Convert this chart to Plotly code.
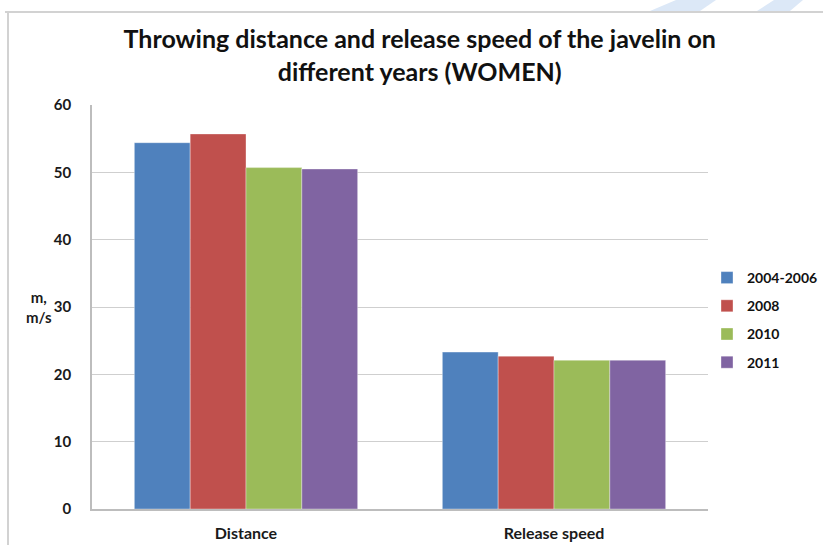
import plotly.graph_objects as go

categories = ["Distance", "Release speed"]
series_names = ["2004-2006", "2008", "2010", "2011"]
values_2004_2006 = [54.4, 23.3]
values_2008 = [55.7, 22.7]
values_2010 = [50.7, 22.1]
values_2011 = [50.5, 22.1]
series_values = [values_2004_2006, values_2008, values_2010, values_2011]
colors = ["#4F81BD", "#C0504D", "#9BBB59", "#8064A2"]
y_ticks = [0, 10, 20, 30, 40, 50, 60]

W, H = 823, 545
L, R, T, B = 92, 115, 105, 36
pw, ph = W - L - R, H - T - B


def px_x(x):
    return (x - L) / pw


def px_y(y):
    return (H - B - y) / ph


fig = go.Figure()
for name, vals, col in zip(series_names, series_values, colors):
    fig.add_trace(go.Bar(
        x=categories, y=vals, name=name, legendgroup=name,
        marker=dict(color=col, line=dict(color="rgba(255,255,255,0.35)", width=1)),
    ))

font_family = "Lato, 'Open Sans', sans-serif"
text_col = "#1a1a1a"

fig.update_layout(
    width=W, height=H,
    margin=dict(l=L, r=R, t=T, b=B, autoexpand=False),
    paper_bgcolor="white", plot_bgcolor="white",
    barmode="group", bargap=0.275, bargroupgap=0,
    font=dict(family=font_family, color=text_col),
    title=dict(
        text="Throwing distance and release speed of the javelin on<br>different years (WOMEN)",
        x=0.51, xanchor="center", y=1 - 48 / H, yanchor="middle",
        font=dict(size=25, family=font_family, color="#111111", weight="bold"),
    ),
    showlegend=True,
    legend=dict(
        x=px_x(707), y=px_y(262), xanchor="left", yanchor="top",
        font=dict(size=14, family=font_family, color="#111111", weight="bold"),
        bgcolor="rgba(0,0,0,0)", itemwidth=30,
        traceorder="grouped", tracegroupgap=7,
    ),
)

fig.update_xaxes(
    showgrid=False, showline=True, linecolor="#bdbdbd", linewidth=1.5,
    ticks="", tickfont=dict(size=16, family=font_family, color=text_col, weight="bold"),
    ticklabelstandoff=9,
)
fig.update_yaxes(
    range=[0, 60], tickvals=y_ticks, showgrid=True, gridcolor="#cfcfcf", gridwidth=1,
    showline=True, linecolor="#bdbdbd", linewidth=1.5, ticks="", zeroline=False,
    tickfont=dict(size=15, family=font_family, color=text_col, weight="bold"),
    ticklabelstandoff=16,
)

fig.add_annotation(
    text="m,<br>m/s", x=px_x(39), y=px_y(307), xref="paper", yref="paper",
    xanchor="center", yanchor="middle",
    showarrow=False, align="center",
    font=dict(size=15, family=font_family, color=text_col, weight="bold"),
)

# outer frame of the chart area
fig.add_shape(type="line", xref="paper", yref="paper",
              x0=px_x(5), x1=px_x(W + 5), y0=px_y(12), y1=px_y(12),
              line=dict(color="#d2d2d2", width=2))
fig.add_shape(type="line", xref="paper", yref="paper",
              x0=px_x(8), x1=px_x(8), y0=px_y(12), y1=px_y(H + 5),
              line=dict(color="#d2d2d2", width=2))

# light-blue slanted stripes of the slide background above the frame
for x_bl, x_tl, x_tr, x_br in [(650, 676, 716, 700), (757, 774, 803, 790)]:
    path = "M {} {} L {} {} L {} {} L {} {} Z".format(
        px_x(x_bl), px_y(11), px_x(x_tl), px_y(0), px_x(x_tr), px_y(0), px_x(x_br), px_y(11))
    fig.add_shape(type="path", xref="paper", yref="paper", path=path,
                  fillcolor="#dce8f7", line=dict(width=0), layer="below")

fig.write_html("out.html")
